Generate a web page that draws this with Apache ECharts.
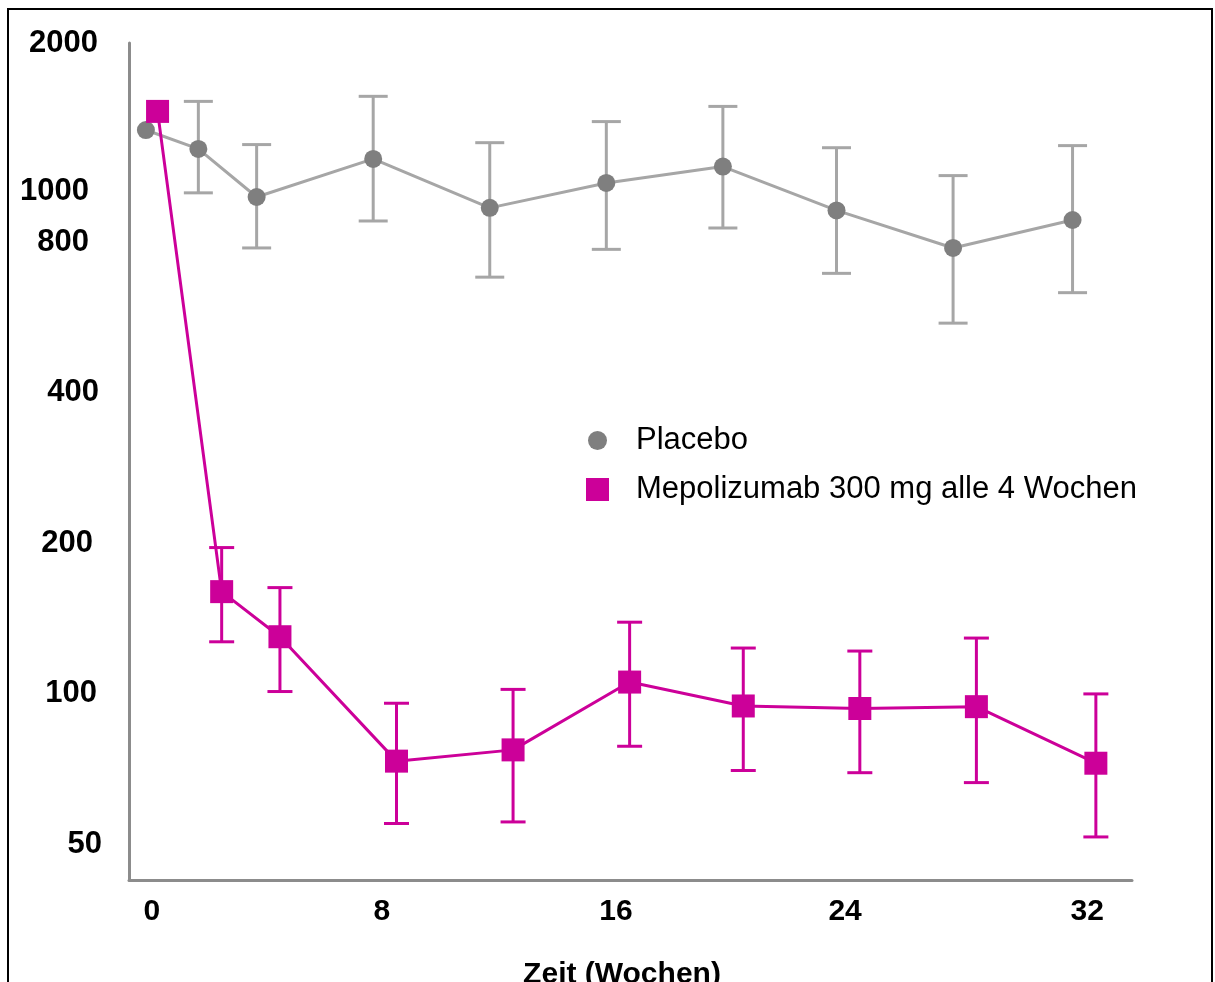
<!DOCTYPE html>
<html>
<head>
<meta charset="utf-8">
<script src="https://cdn.jsdelivr.net/npm/echarts@6/dist/echarts.min.js"></script>
<style>
  html, body { margin: 0; padding: 0; background: #ffffff; }
  #chart { position: absolute; left: 0; top: 0; width: 1215px; height: 982px; }
  #frame { position: absolute; left: 7px; top: 8px; width: 1202px; height: 1000px; border: 2px solid #000; pointer-events: none; }
</style>
</head>
<body>
<div id="chart"></div>
<div id="frame"></div>
<script>
// ---- data ----
const xTickLabels = [0, 8, 16, 24, 32];
const yTickLabels = [50, 100, 200, 400, 800, 1000, 2000];

const placeboName = 'Placebo';
const placeboWeeks = [-0.2, 1.6, 3.6, 7.6, 11.6, 15.6, 19.6, 23.5, 27.5, 31.6];
const placeboMean  = [1341, 1229, 985, 1174, 937, 1051, 1133, 926, 779, 886];
const placeboUpper = [null, 1530, 1254, 1566, 1265, 1394, 1495, 1236, 1087, 1248];
const placeboLower = [null, 1004, 779, 882, 681, 774, 854, 693, 551, 634];

const mepoName = 'Mepolizumab 300 mg alle 4 Wochen';
const mepoWeeks = [0.2, 2.4, 4.4, 8.4, 12.4, 16.4, 20.3, 24.3, 28.3, 32.4];
const mepoMean  = [1461, 160, 130, 73.3, 77.2, 105.5, 94.5, 93.4, 94.2, 72.6];
const mepoUpper = [null, 196, 163, 95.7, 102, 139, 123.4, 121.7, 129.2, 99.9];
const mepoLower = [null, 127, 101, 55.0, 55.4, 78.5, 70.2, 69.5, 66.4, 51.7];

const xAxisTitle = 'Zeit (Wochen)';

// ---- styling ----
const FONT = "'Liberation Sans', Arial, sans-serif";
const GREY_LINE = '#A6A6A6';
const GREY_MARK = '#7F7F7F';
const MAGENTA = '#CC0099';
const AXIS = '#8C8C8C';

function pairs(xs, ys) { return xs.map((x, i) => [x, ys[i]]); }
function bars(xs, lo, hi) {
  const out = [];
  xs.forEach((x, i) => { if (lo[i] != null && hi[i] != null) out.push([x, lo[i], hi[i]]); });
  return out;
}
function errorRender(capW, color) {
  return function (params, api) {
    const x = api.value(0);
    const pLo = api.coord([x, api.value(1)]);
    const pHi = api.coord([x, api.value(2)]);
    const st = { stroke: color, lineWidth: 3 };
    return {
      type: 'group',
      children: [
        { type: 'line', shape: { x1: pLo[0], y1: pLo[1], x2: pHi[0], y2: pHi[1] }, style: st },
        { type: 'line', shape: { x1: pHi[0] - capW / 2, y1: pHi[1], x2: pHi[0] + capW / 2, y2: pHi[1] }, style: st },
        { type: 'line', shape: { x1: pLo[0] - capW / 2, y1: pLo[1], x2: pLo[0] + capW / 2, y2: pLo[1] }, style: st }
      ]
    };
  };
}

// per-label small nudges (label text boxes in the original were placed by hand)
const yPad = { 2000: [0, 4, 0, 0], 1000: [0, 13, 4, 0], 800: [0, 13, 0, 0], 400: [0, 3, 0, 0], 200: [0, 9, 0, 0], 100: [0, 5, 0, 0], 50: [0, 0, 0, 0] };
const xPad = { 0: [0, 0, 0, 0], 8: [0, 6, 0, 0], 16: [0, 4, 0, 0], 24: [0, 12, 0, 0], 32: [0, 0, 0, 6] };
function richFor(pads, prefix, size) {
  const r = {};
  Object.keys(pads).forEach(k => {
    r[prefix + k] = { fontFamily: FONT, fontSize: size, fontWeight: 'bold', color: '#000', padding: pads[k] };
  });
  return r;
}

const chart = echarts.init(document.getElementById('chart'), null, { renderer: 'canvas' });
chart.setOption({
  animation: false,
  backgroundColor: '#ffffff',
  grid: { left: 129, top: 43, width: 1003, height: 837, containLabel: false, outerBoundsMode: 'none' },
  legend: {
    orient: 'vertical',
    left: 581,
    top: 420,
    itemWidth: 23,
    itemHeight: 23,
    itemGap: 18,
    textStyle: { fontFamily: FONT, fontSize: 31, color: '#000', padding: [0, 0, 0, 22] },
    data: [
      { name: placeboName, icon: 'path://M0,0M23,23M2,11.5a9.5,9.5 0 1,0 19,0a9.5,9.5 0 1,0 -19,0Z' },
      { name: mepoName, icon: 'rect' }
    ]
  },
  xAxis: {
    type: 'value',
    min: -0.78,
    max: 33.64,
    axisLine: { show: true, onZero: false, lineStyle: { color: AXIS, width: 3 } },
    axisTick: { show: false },
    splitLine: { show: false },
    axisLabel: {
      customValues: xTickLabels,
      margin: 17,
      fontFamily: FONT, fontSize: 30, fontWeight: 'bold', color: '#000',
      formatter: v => '{x' + v + '|' + v + '}',
      rich: richFor(xPad, 'x', 30)
    },
    name: xAxisTitle,
    nameLocation: 'middle',
    nameGap: 80,
    nameTextStyle: { fontFamily: FONT, fontSize: 30, fontWeight: 'bold', color: '#000', padding: [0, 17, 0, 0] }
  },
  yAxis: {
    type: 'log',
    logBase: 10,
    min: 42.4,
    max: 2002,
    axisLine: { show: true, onZero: false, lineStyle: { color: AXIS, width: 3 } },
    axisTick: { show: false },
    splitLine: { show: false },
    minorTick: { show: false },
    minorSplitLine: { show: false },
    axisLabel: {
      customValues: yTickLabels,
      margin: 27,
      fontFamily: FONT, fontSize: 31, fontWeight: 'bold', color: '#000',
      formatter: v => '{y' + Math.round(v) + '|' + Math.round(v) + '}',
      rich: richFor(yPad, 'y', 31)
    }
  },
  series: [
    {
      name: placeboName + ' SE',
      type: 'custom',
      z: 1,
      renderItem: errorRender(29, GREY_LINE),
      encode: { x: 0, y: [1, 2] },
      data: bars(placeboWeeks, placeboLower, placeboUpper),
      silent: true
    },
    {
      name: mepoName + ' SE',
      type: 'custom',
      z: 1,
      renderItem: errorRender(25, MAGENTA),
      encode: { x: 0, y: [1, 2] },
      data: bars(mepoWeeks, mepoLower, mepoUpper),
      silent: true
    },
    {
      name: placeboName,
      type: 'line',
      z: 3,
      data: pairs(placeboWeeks, placeboMean),
      symbol: 'circle',
      symbolSize: 18,
      showAllSymbol: true,
      itemStyle: { color: GREY_MARK },
      lineStyle: { color: GREY_LINE, width: 3 }
    },
    {
      name: mepoName,
      type: 'line',
      z: 4,
      data: pairs(mepoWeeks, mepoMean),
      symbol: 'rect',
      symbolSize: 23,
      showAllSymbol: true,
      itemStyle: { color: MAGENTA },
      lineStyle: { color: MAGENTA, width: 3 }
    }
  ]
});
</script>
</body>
</html>
